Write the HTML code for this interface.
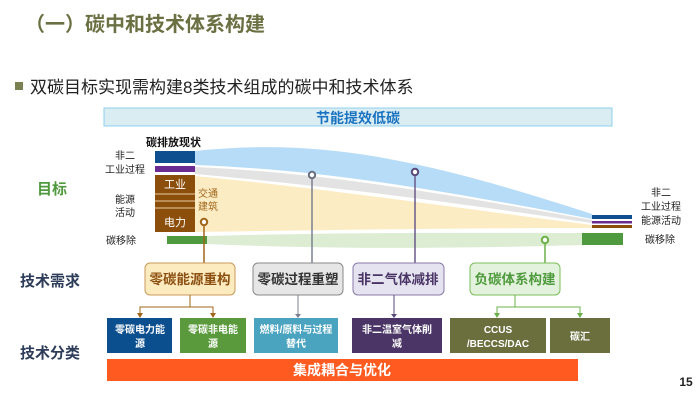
<!DOCTYPE html>
<html><head><meta charset="utf-8"><style>
body{margin:0;width:700px;height:401px;background:#fff;overflow:hidden;font-family:"Liberation Sans","Noto Sans CJK SC",sans-serif;}
svg{display:block}
</style></head><body>
<svg width="700" height="401" viewBox="0 0 700 401" xmlns="http://www.w3.org/2000/svg" font-family="Liberation Sans, Noto Sans CJK SC, sans-serif">
<text x="25" y="31" font-size="20" font-weight="bold" fill="#6b7043">（一）碳中和技术体系构建</text>
<rect x="15" y="82" width="8" height="8" fill="#7a8050"/>
<text x="30" y="93" font-size="17" fill="#222">双碳目标实现需构建8类技术组成的碳中和技术体系</text>
<rect x="104" y="108" width="508" height="18" fill="#daedf3" stroke="#8fd0ee" stroke-width="1"/>
<text x="358" y="123" font-size="14" font-weight="bold" fill="#1a73c0" text-anchor="middle">节能提效低碳</text>

<path d="M195,151 C320,138 420,158 592,214 L592,219 C450,192 330,170 195,165 Z" fill="#b7dcf7"/>
<path d="M195,167 C330,173 450,195 592,220 L592,223 C450,202 330,186 195,174 Z" fill="#e3e3e3"/>
<path d="M195,176 C330,189 450,207 592,225 L592,228 C450,228 330,230 195,232 Z" fill="#fbecc4"/>
<path d="M207,236 C350,232 480,233 582,233 L582,245 C480,248 350,250 207,244 Z" fill="#dcedd3"/>

<text x="146" y="146" font-size="11" font-weight="bold" fill="#111">碳排放现状</text>
<rect x="155" y="151" width="40" height="12" fill="#0d4f8f"/>
<rect x="155" y="166" width="40" height="6" fill="#6a2c91"/>
<rect x="155" y="175" width="40" height="57" fill="#8b4f0b"/>
<line x1="155" y1="194" x2="195" y2="194" stroke="#e8c9a0" stroke-width="1"/>
<line x1="155" y1="201" x2="195" y2="201" stroke="#e8c9a0" stroke-width="1"/>
<line x1="155" y1="208" x2="195" y2="208" stroke="#e8c9a0" stroke-width="1"/>
<text x="175" y="188" font-size="11" fill="#fff" text-anchor="middle">工业</text>
<text x="175" y="226" font-size="11" fill="#fff" text-anchor="middle">电力</text>
<text x="198" y="197" font-size="10" fill="#a0651a">交通</text>
<text x="198" y="210" font-size="10" fill="#a0651a">建筑</text>
<rect x="167" y="236" width="40" height="8" fill="#4f9a3e"/>

<g font-size="10" fill="#222" text-anchor="middle">
<text x="125" y="159">非二</text><text x="125" y="173">工业过程</text>
<text x="125" y="203">能源</text><text x="125" y="216">活动</text>
<text x="121" y="244">碳移除</text>
<text x="661" y="196">非二</text><text x="661" y="210">工业过程</text>
<text x="661" y="224">能源活动</text><text x="660" y="243">碳移除</text>
</g>
<rect x="592" y="215" width="40" height="4" fill="#0d4f8f"/>
<rect x="592" y="221" width="40" height="2.5" fill="#6a2c91"/>
<rect x="592" y="225" width="40" height="3" fill="#8b4f0b"/>
<rect x="582" y="233" width="41" height="12" fill="#4f9a3e"/>

<text x="52" y="194" font-size="15" font-weight="bold" fill="#4f9a3e" text-anchor="middle">目标</text>
<text x="50" y="286" font-size="15" font-weight="bold" fill="#2e3d5a" text-anchor="middle">技术需求</text>
<text x="50" y="358" font-size="15" font-weight="bold" fill="#2e3d5a" text-anchor="middle">技术分类</text>

<g stroke-width="1.5">
<line x1="204" y1="225" x2="204" y2="263" stroke="#a0651a"/>
<line x1="312" y1="178" x2="312" y2="263" stroke="#7a8090"/>
<line x1="415" y1="175" x2="415" y2="263" stroke="#6a5a8a"/>
<line x1="545" y1="243" x2="545" y2="263" stroke="#6bb04a"/>
</g>
<g stroke-width="2" fill="#fff">
<circle cx="204" cy="222" r="3.2" stroke="#a0651a"/>
<circle cx="312" cy="175" r="3.2" stroke="#6a7080"/>
<circle cx="415" cy="172" r="3.2" stroke="#5a4a7a"/>
<circle cx="545" cy="240" r="3.2" stroke="#6bb04a"/>
</g>

<g font-size="13.5" font-weight="bold" text-anchor="middle">
<rect x="145" y="263" width="90" height="32" rx="5" fill="#fdebc0" stroke="#c99a5a"/>
<text x="190" y="284" fill="#8a4f10">零碳能源重构</text>
<rect x="253" y="263" width="90" height="32" rx="5" fill="#e6e6e6" stroke="#888"/>
<text x="298" y="284" fill="#333">零碳过程重塑</text>
<rect x="353" y="263" width="91" height="32" rx="5" fill="#e5e3ef" stroke="#8a7aaa"/>
<text x="398" y="284" fill="#4a3566">非二气体减排</text>
<rect x="470" y="263" width="90" height="32" rx="5" fill="#e3f2dc" stroke="#7bbf5a"/>
<text x="515" y="284" fill="#4f9a3e">负碳体系构建</text>
</g>

<g fill="none" stroke-width="1">
<path d="M190,295 V307 M140,313 V307 H213 V313" stroke="#a0651a"/>
<path d="M298,295 V314" stroke="#7a8090"/>
<path d="M394,295 V314" stroke="#5a4a7a"/>
<path d="M515,295 V307 M497,313 V307 H580 V313" stroke="#6bb04a"/>
</g>
<polygon points="137,313 143,313 140,318" fill="#a0651a"/>
<polygon points="210,313 216,313 213,318" fill="#a0651a"/>
<polygon points="295,314 301,314 298,318" fill="#7a8090"/>
<polygon points="391,314 397,314 394,318" fill="#5a4a7a"/>
<polygon points="494,313 500,313 497,318" fill="#6bb04a"/>
<polygon points="577,313 583,313 580,318" fill="#6bb04a"/>

<g font-size="10" font-weight="bold" fill="#fff" text-anchor="middle">
<rect x="107" y="318" width="65" height="35" fill="#0b4f8e"/>
<text x="140" y="333">零碳电力能</text><text x="140" y="347">源</text>
<rect x="180" y="318" width="66" height="35" fill="#5a9a3c"/>
<text x="213" y="333">零碳非电能</text><text x="213" y="347">源</text>
<rect x="254" y="318" width="84" height="35" fill="#4aa3bf"/>
<text x="296" y="333">燃料/原料与过程</text><text x="296" y="347">替代</text>
<rect x="352" y="318" width="90" height="35" fill="#4a3566"/>
<text x="397" y="333">非二温室气体削</text><text x="397" y="347">减</text>
<rect x="450" y="318" width="96" height="35" fill="#6b6f3e"/>
<text x="498" y="333">CCUS</text><text x="498" y="347">/BECCS/DAC</text>
<rect x="550" y="318" width="60" height="35" fill="#6b6f3e"/>
<text x="580" y="340">碳汇</text>
</g>
<rect x="107" y="359" width="471" height="22" fill="#ff5a1f"/>
<text x="342" y="375" font-size="14" font-weight="bold" fill="#fff" text-anchor="middle">集成耦合与优化</text>
<text x="686" y="386" font-size="12" font-weight="bold" fill="#222" text-anchor="middle">15</text>
</svg>
</body></html>
